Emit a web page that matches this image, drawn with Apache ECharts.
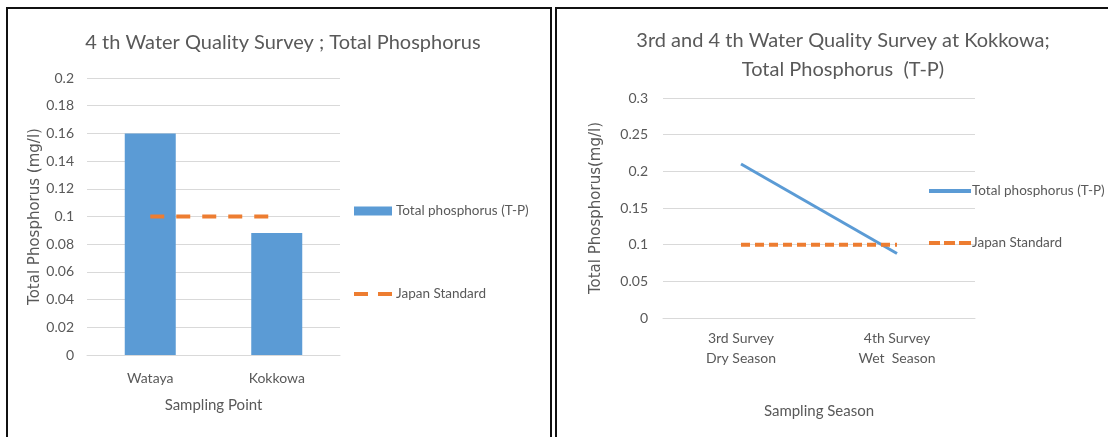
<!DOCTYPE html>
<html>
<head>
<meta charset="utf-8">
<script src="https://cdn.jsdelivr.net/npm/echarts@6/dist/echarts.min.js"></script>
<style>
  html, body { margin: 0; padding: 0; background: #fff; }
  body { width: 1108px; height: 437px; position: relative; overflow: hidden; }
  .chart { position: absolute; top: 0; height: 437px; }
  .frame { position: absolute; border: 2px solid #111; pointer-events: none; }
</style>
</head>
<body>
<div id="left_chart" class="chart" style="left:0;width:553px;"></div>
<div id="right_chart" class="chart" style="left:553px;width:555px;"></div>
<div class="frame" style="left:6px;top:7px;width:542px;height:440px;"></div>
<div class="frame" style="left:555px;top:7px;width:560px;height:440px;"></div>
<script>
// survey 4: sampling points
var points = ['Wataya', 'Kokkowa'];
var tp_by_point = [0.16, 0.088];
var std_by_point = [0.1, 0.1];

// kokkowa: survey 3 vs survey 4
var seasons = ['3rd Survey\nDry Season', '4th Survey\nWet  Season'];
var tp_by_season = [0.21, 0.088];
var std_by_season = [0.1, 0.1];

var font = "Lato, sans-serif";
var nameFont = "'DejaVu Sans', sans-serif";
var grey = '#595959';
var blue = '#5b9bd5';
var orange = '#ed7d31';
var legendText = {fontFamily: font, fontSize: 13.5, color: grey, padding: [0, 0, 0, -1]};
var legendTextTight = {fontFamily: font, fontSize: 13.5, color: grey, padding: [0, 0, 0, -4]};

var leftChart = echarts.init(document.getElementById('left_chart'));
leftChart.setOption({
    animation: false,
    title: {
        text: '4 th Water Quality Survey ; Total Phosphorus',
        left: 278, top: 28, textAlign: 'center',
        textStyle: {fontFamily: font, fontSize: 20, fontWeight: 'normal', color: grey}
    },
    legend: [
        {
            orient: 'vertical', left: 349, top: 199,
            itemWidth: 38, itemHeight: 9,
            textStyle: legendText,
            data: [{name: 'Total phosphorus (T-P)', icon: 'rect'}]
        },
        {
            orient: 'vertical', left: 349, top: 282,
            itemWidth: 38, itemHeight: 4,
            textStyle: legendText,
            data: [{name: 'Japan Standard', icon: 'path://M0,0H14V4H0Z M24,0H38V4H24Z'}]
        }
    ],
    grid: {left: 87, right: 213, top: 78, bottom: 82},
    xAxis: {
        type: 'category',
        data: points,
        name: 'Sampling Point', nameLocation: 'middle', nameGap: 43,
        nameTextStyle: {fontFamily: font, fontSize: 15, color: grey},
        axisLine: {lineStyle: {color: '#d9d9d9'}},
        axisTick: {show: false},
        axisLabel: {fontFamily: font, fontSize: 14, color: grey, margin: 16}
    },
    yAxis: {
        type: 'value', min: 0, max: 0.2, interval: 0.02,
        name: 'Total Phosphorus (mg/l)', nameLocation: 'middle', nameGap: 44,
        nameTextStyle: {fontFamily: nameFont, fontSize: 15, color: grey},
        axisLabel: {fontFamily: font, fontSize: 14, color: grey, margin: 13},
        splitLine: {lineStyle: {color: '#d9d9d9'}}
    },
    series: [
        {
            name: 'Total phosphorus (T-P)',
            type: 'bar',
            barWidth: 51,
            itemStyle: {color: blue},
            data: tp_by_point
        },
        {
            name: 'Japan Standard',
            type: 'line',
            symbol: 'none',
            lineStyle: {color: orange, width: 4, type: [14, 12], cap: 'butt'},
            itemStyle: {color: orange},
            data: std_by_point
        }
    ]
});

var rightChart = echarts.init(document.getElementById('right_chart'));
rightChart.setOption({
    animation: false,
    title: {
        text: '3rd and 4 th Water Quality Survey at Kokkowa;\nTotal Phosphorus  (T-P)',
        left: 285, top: 21, textAlign: 'center',
        textStyle: {fontFamily: font, fontSize: 20, fontWeight: 'normal', color: grey, lineHeight: 29}
    },
    legend: [
        {
            orient: 'vertical', left: 371, top: 179,
            itemWidth: 42, itemHeight: 4,
            textStyle: legendTextTight,
            data: [{name: 'Total phosphorus (T-P)', icon: 'rect'}]
        },
        {
            orient: 'vertical', left: 371, top: 231,
            itemWidth: 42, itemHeight: 4,
            textStyle: legendTextTight,
            data: [{name: 'Japan Standard', icon: 'path://M0,0H11V4H0Z M15,0H26V4H15Z M30,0H42V4H30Z'}]
        }
    ],
    grid: {left: 110, right: 133, top: 98, bottom: 119},
    xAxis: {
        type: 'category',
        data: seasons,
        name: 'Sampling Season', nameLocation: 'middle', nameGap: 86,
        nameTextStyle: {fontFamily: font, fontSize: 15, color: grey},
        axisLine: {lineStyle: {color: '#d9d9d9'}},
        axisTick: {show: false},
        axisLabel: {fontFamily: font, fontSize: 14, color: grey, margin: 10, lineHeight: 20}
    },
    yAxis: {
        type: 'value', min: 0, max: 0.3, interval: 0.05,
        name: 'Total Phosphorus(mg/l)', nameLocation: 'middle', nameGap: 59,
        nameTextStyle: {fontFamily: nameFont, fontSize: 15, color: grey},
        axisLabel: {fontFamily: font, fontSize: 14, color: grey, margin: 15},
        splitLine: {lineStyle: {color: '#d9d9d9'}}
    },
    series: [
        {
            name: 'Total phosphorus (T-P)',
            type: 'line',
            symbol: 'none',
            lineStyle: {color: blue, width: 3},
            itemStyle: {color: blue},
            data: tp_by_season
        },
        {
            name: 'Japan Standard',
            type: 'line',
            symbol: 'none',
            lineStyle: {color: orange, width: 4, type: [9, 5], cap: 'butt'},
            itemStyle: {color: orange},
            data: std_by_season
        }
    ]
});
</script>
</body>
</html>
